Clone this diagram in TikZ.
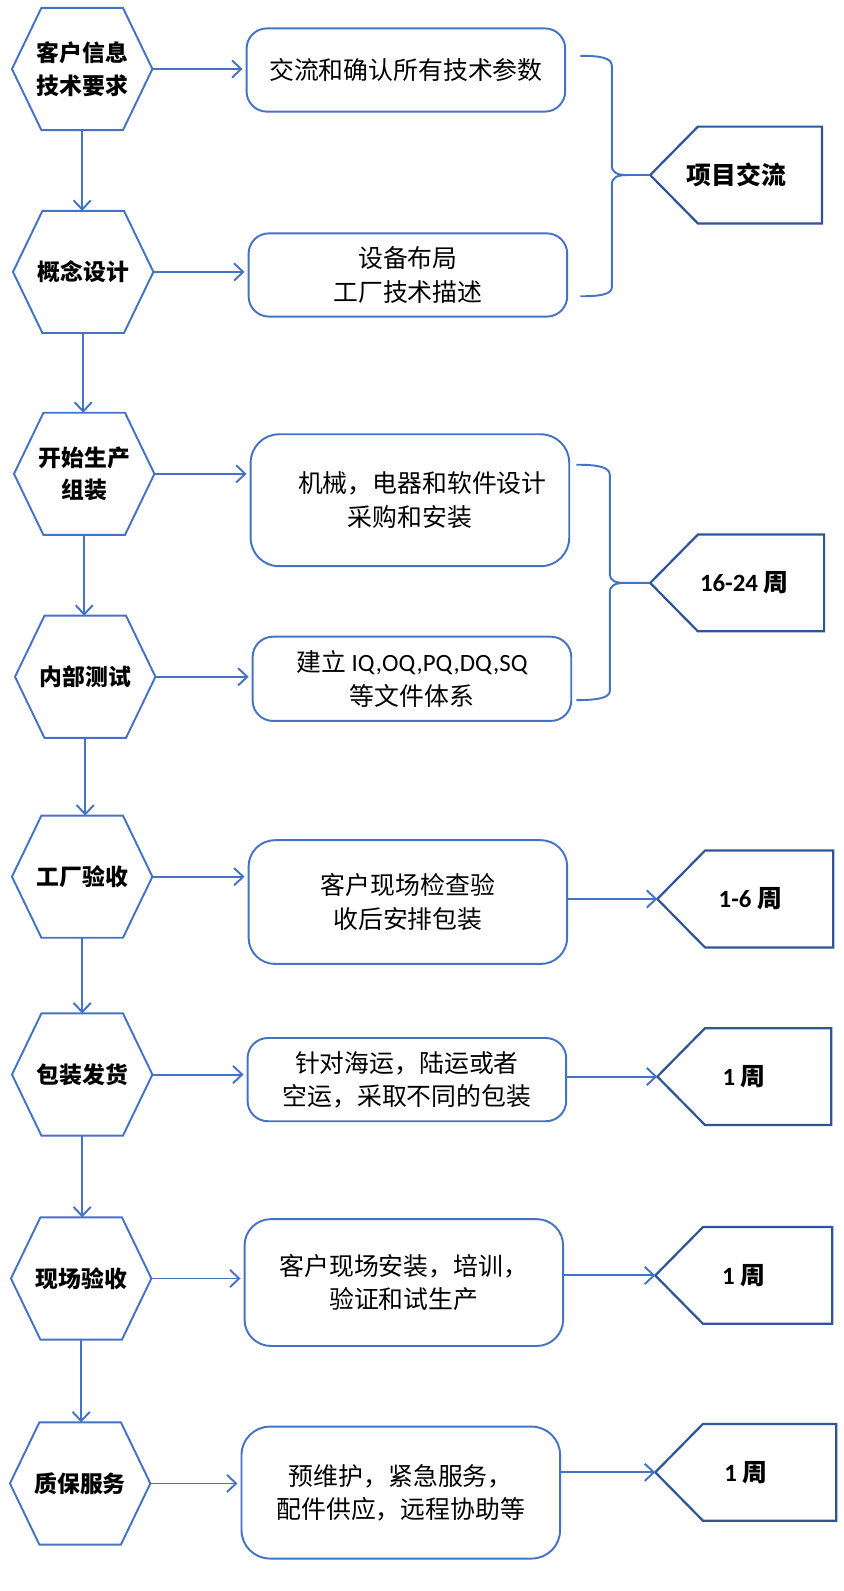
\documentclass[tikz,border=0pt]{standalone}
\usepackage{fontspec}
\setmainfont{Carlito}
\newfontfamily\cjk{Noto Sans CJK SC}
\usetikzlibrary{arrows.meta}
\definecolor{lineblue}{HTML}{4472C4}
\definecolor{tagblue}{HTML}{2F5597}

\begin{document}
\begin{tikzpicture}[x=1pt, y=-1pt,
  blueline/.style={draw=lineblue, line width=1.9pt},
  tagline/.style={draw=tagblue, line width=2.2pt, line join=miter},
  arr/.style={blueline, -{Straight Barb[length=9pt, width=17pt]}},
  hexa/.style={minimum width=138pt, minimum height=120pt, inner sep=0pt, align=center,
    font=\cjk\bfseries\fontsize{22.5}{32}\selectfont},
  box/.style={blueline, rounded corners=20pt, minimum width=314pt, minimum height=82pt,
    inner sep=0pt, align=center, font=\cjk\fontsize{24.5}{33}\selectfont},
  tag/.style={minimum height=95pt, inner sep=0pt, font=\bfseries\fontsize{24.5}{30}\selectfont}]

\useasboundingbox (0,0) rectangle (831,1568);

% steps on the left
\node[hexa] (h1) at (81,68) {客户信息\\技术要求};
\node[hexa] (h2) at (82,268) {概念设计};
\node[hexa] (h3) at (83,467) {开始生产\\组装};
\node[hexa] (h4) at (84,667) {内部测试};
\node[hexa] (h5) at (81,864) {工厂验收};
\node[hexa] (h6) at (81,1059) {包装发货};
\node[hexa] (h7) at (80,1260) {现场验收};
\node[hexa] (h8) at (79,1462) {质保服务};

\foreach \h in {h1,h2,h3,h4,h5,h6,h7,h8}
  \draw[blueline] (\h.west) -- ([xshift=29pt]\h.north west) -- ([xshift=-29pt]\h.north east)
    -- (\h.east) -- ([xshift=-29pt]\h.south east) -- ([xshift=29pt]\h.south west) -- cycle;

% boxes
\node[box] (b1) at (400,69) {交流和确认所有技术参数};
\node[box] (b2) at (402,271) {设备布局\\工厂技术描述};
\node[box, minimum height=130pt, rounded corners=28pt] (b3) at (404,493) {\quad 机械，电器和软件设计\\采购和安装};
\node[box, minimum height=83pt] (b4) at (406,669) {建立 {\rmfamily IQ,OQ,PQ,DQ,SQ}\\等文件体系};
\node[box, minimum height=122pt, rounded corners=26pt] (b5) at (402,889) {客户现场检查验\\收后安排包装};
\node[box] (b6) at (401,1064) {针对海运，陆运或者\\空运，采取不同的包装};
\node[box, minimum height=125pt, rounded corners=26pt] (b7) at (398,1264) {客户现场安装，培训，\\验证和试生产};
\node[box, minimum height=130pt, rounded corners=28pt] (b8) at (395,1471) {预维护，紧急服务，\\配件供应，远程协助等};

% durations
\node[tag, minimum width=169pt] (t1) at (725.5,172.5) {\cjk 项目交流};
\node[tag, minimum width=171pt] (t2) at (726.5,574.5) {\hspace{14pt}16-24 {\cjk 周}};
\node[tag, minimum width=173pt] (t3) at (734.5,886) {\hspace{10pt}1-6 {\cjk 周}};
\node[tag, minimum width=171pt] (t4) at (733.5,1061) {1 {\cjk 周}};
\node[tag, minimum width=174pt] (t5) at (733,1257) {1 {\cjk 周}};
\node[tag, minimum width=178pt] (t6) at (735,1451) {1 {\cjk 周}};

\foreach \i in {1,...,6}
  \draw[tagline] (t\i.west) -- ([xshift=47pt]t\i.north west) -- (t\i.north east)
    -- (t\i.south east) -- ([xshift=47pt]t\i.south west) -- cycle;

% arrows
\foreach \i/\j in {1/2,2/3,3/4,4/5,5/6,6/7,7/8}
  \draw[arr] (h\i.south) -- (h\i.south |- h\j.north);
\foreach \i in {1,...,8}
  \draw[arr] (h\i.east) -- ([xshift=-3pt]h\i.east -| b\i.west);
\foreach \i/\t in {5/3,6/4,7/5,8/6}
  \draw[arr] (b\i.east |- t\t.west) -- (t\t.west);

% brackets
\draw[blueline] (572,55) .. controls (592,55) and (603,57) .. (603,65) -- (603,163)
  .. controls (603,170) and (608,172.5) .. (618,172.5) -- (t1.west) -- (618,172.5)
  .. controls (608,172.5) and (603,175) .. (603,182) -- (603,283)
  .. controls (603,290) and (592,292) .. (572,292);
\draw[blueline] (568,458) .. controls (588,458) and (601,460) .. (601,468) -- (601,566)
  .. controls (601,572) and (606,574.5) .. (616,574.5) -- (t2.west) -- (616,574.5)
  .. controls (606,574.5) and (601,577) .. (601,584) -- (601,681)
  .. controls (601,688) and (588,690) .. (568,690);

\end{tikzpicture}
\end{document}
